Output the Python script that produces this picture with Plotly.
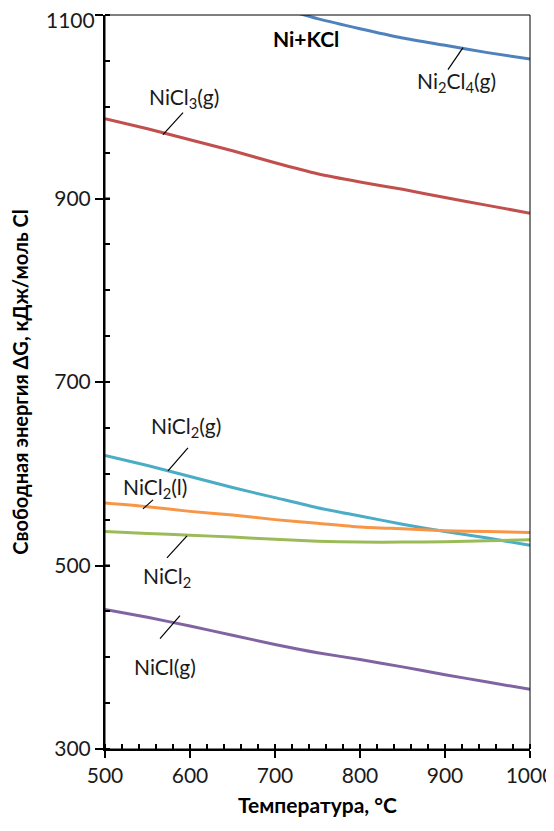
import plotly.graph_objects as go

T = [500, 550, 600, 650, 700, 750, 800, 850, 900, 950, 1000]
ni2cl4_g = [1160, 1146, 1133, 1121, 1109, 1096, 1085, 1075, 1067, 1059, 1052]
nicl3_g = [987, 976, 964, 952, 939, 927, 918, 910, 901, 892.5, 884]
nicl2_g = [620, 609, 597, 585, 574, 563, 554, 545, 537, 530, 522]
nicl2_l = [568, 564, 559, 555, 550, 546, 542, 540, 538, 537, 536]
nicl2 = [537, 535, 533, 531, 528.5, 526.5, 525.5, 525.5, 526, 527, 528]
nicl_g = [452, 443.5, 434, 424, 414, 405, 397.5, 389.5, 381, 373, 365]

series = [
    ("Ni2Cl4(g)", ni2cl4_g, "#4F81BD"),
    ("NiCl3(g)", nicl3_g, "#C0504D"),
    ("NiCl2(g)", nicl2_g, "#4BACC6"),
    ("NiCl2(l)", nicl2_l, "#F79646"),
    ("NiCl2", nicl2, "#9BBB59"),
    ("NiCl(g)", nicl_g, "#8064A2"),
]

x_ticks = [500, 600, 700, 800, 900, 1000]
y_ticks = [300, 500, 700, 900, 1100]

# labels: text, text position (T, G), leader line (T0, G0, T1, G1)
labels = [
    ("NiCl<sub>3</sub>(g)", 593, 1009, (591.8, 993.6, 568.2, 969.6)),
    ("Ni<sub>2</sub>Cl<sub>4</sub>(g)", 914, 1027, (903.5, 1040.5, 921.2, 1064.5)),
    ("NiCl<sub>2</sub>(g)", 595, 651, (597.6, 628.2, 574.1, 603.1)),
    ("NiCl<sub>2</sub>(l)", 559, 584.6, (556.5, 571.5, 544.7, 561.7)),
    ("NiCl<sub>2</sub>", 573, 487.5, (596.5, 532.2, 572.9, 508.3)),
    ("NiCl(g)", 570.6, 390.4, (588.2, 445.3, 564.7, 420.2)),
]

FONT = "Lato, 'Open Sans', sans-serif"

fig = go.Figure()
for name, vals, col in series:
    fig.add_trace(go.Scatter(x=T, y=vals, mode="lines", name=name,
                             line=dict(color=col, width=3, shape="spline", smoothing=0.6),
                             showlegend=False, cliponaxis=True))

shapes = []
annotations = []
for text, tx, ty, (a, b, c, d) in labels:
    annotations.append(dict(x=tx, y=ty, xref="x", yref="y", text=text, showarrow=False,
                            font=dict(size=21, color="#1a1a1a", family=FONT)))
    shapes.append(dict(type="line", xref="x", yref="y", x0=a, y0=b, x1=c, y1=d,
                       line=dict(color="black", width=1.2)))

annotations.append(dict(x=736.5, y=1074, xref="x", yref="y", text="<b>Ni+KCl</b>",
                        showarrow=False, font=dict(size=21, color="black", family=FONT)))

# top y tick label drawn as annotation (would be clipped otherwise)
annotations.append(dict(x=0, xref="paper", y=y_ticks[-1], yref="y", text=str(y_ticks[-1]),
                        xanchor="right", yanchor="middle", xshift=-9, yshift=-4, showarrow=False,
                        borderpad=0, font=dict(size=21, color="#1a1a1a", family=FONT)))
y_ticktext = [str(v) for v in y_ticks[:-1]] + [""]

# crossing parts of major ticks (inside)
for xv in x_ticks:
    shapes.append(dict(type="line", xref="x", yref="paper", ysizemode="pixel", yanchor=0,
                       x0=xv, x1=xv, y0=0, y1=5, line=dict(color="black", width=2)))
for yv in y_ticks:
    shapes.append(dict(type="line", yref="y", xref="paper", xsizemode="pixel", xanchor=0,
                       y0=yv, y1=yv, x0=0, x1=5, line=dict(color="black", width=2)))

shapes.append(dict(type="rect", xref="paper", yref="paper", x0=0, x1=1, y0=0, y1=1,
                   line=dict(color="black", width=1)))

fig.update_layout(
    width=554, height=831,
    margin=dict(l=97, r=32, t=7, b=90, autoexpand=False),
    plot_bgcolor="white", paper_bgcolor="white",
    font=dict(family=FONT, color="#1a1a1a"),
    shapes=shapes, annotations=annotations,
)
fig.update_xaxes(
    range=[500, 1000], tickvals=x_ticks, ticks="outside", ticklen=7, tickwidth=2,
    tickcolor="black", showline=True, linecolor="black", linewidth=2, showgrid=False,
    zeroline=False, tickfont=dict(size=21, color="#1a1a1a"), automargin=False,
    minor=dict(dtick=20, ticks="inside", ticklen=5, tickwidth=2, tickcolor="black", showgrid=False),
    title=dict(text="<b>Температура, °C</b>", font=dict(size=21, color="black"), standoff=12),
)
fig.update_yaxes(
    range=[300, 1100], tickvals=y_ticks, ticktext=y_ticktext, ticks="outside", ticklen=8,
    tickwidth=2, tickcolor="black", showline=True, linecolor="black", linewidth=2,
    showgrid=False, zeroline=False, tickfont=dict(size=21, color="#1a1a1a"), automargin=False,
    minor=dict(dtick=50, ticks="inside", ticklen=5, tickwidth=2, tickcolor="black", showgrid=False),
    title=dict(text="<b>Свободная энергия ΔG, кДж/моль Cl</b>", font=dict(size=20, color="black"),
               standoff=20),
)

fig.write_html("out.html")
